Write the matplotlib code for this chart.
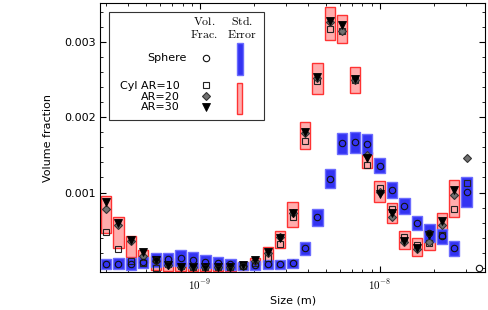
import numpy as np
import matplotlib
matplotlib.use('Agg')
import matplotlib.pyplot as plt
from matplotlib.patches import Rectangle
from matplotlib.ticker import FixedLocator, MultipleLocator, FuncFormatter, NullFormatter, FormatStrFormatter

plt.rcParams['font.size'] = 8
plt.rcParams['mathtext.fontset'] = 'cm'

# ── Data (sizes in nm, volume fractions in units of 1e-3) ────────────────────
size_nm = [0.300, 0.352, 0.413, 0.484, 0.568, 0.666, 0.781, 0.915, 1.073, 1.258,
           1.476, 1.730, 2.029, 2.379, 2.789, 3.270, 3.834, 4.496, 5.271, 6.181,
           7.244, 8.494, 9.959, 11.68, 13.69, 16.06, 18.83, 22.07, 25.88, 30.34,
           35.58]

sphere = [0.045, 0.053, 0.050, 0.070, 0.100, 0.110, 0.125, 0.100, 0.080, 0.058,
          0.045, 0.025, 0.030, 0.045, 0.045, 0.060, 0.258, 0.670, 1.180, 1.654,
          1.668, 1.645, 1.356, 1.033, 0.820, 0.598, 0.460, 0.420, 0.258, 1.010,
          0.000]
sphere_err = [0.066, 0.073, 0.077, 0.077, 0.089, 0.089, 0.104, 0.104, 0.089, 0.078,
              0.073, 0.050, 0.058, 0.060, 0.058, 0.062, 0.084, 0.113, 0.126, 0.142,
              0.137, 0.128, 0.100, 0.111, 0.104, 0.093, 0.120, 0.100, 0.100, 0.200,
              np.nan]

cyl_ar10 = [0.471, 0.245, 0.090, 0.060, 0.000, 0.053, 0.020, 0.010, 0.010, 0.008,
            0.010, 0.020, 0.060, 0.125, 0.310, 0.670, 1.680, 2.480, 3.170, 3.150,
            2.490, 1.360, 1.056, 0.777, 0.404, 0.302, 0.332, 0.435, 0.777, 1.130,
            np.nan]
cyl_ar20 = [0.781, 0.570, 0.350, 0.160, 0.095, 0.040, 0.010, 0.010, 0.008, 0.008,
            0.012, 0.025, 0.090, 0.190, 0.410, 0.730, 1.790, 2.520, 3.270, 3.150,
            2.490, 1.500, 1.010, 0.680, 0.340, 0.250, 0.340, 0.568, 0.967, 1.455,
            np.nan]
cyl_ar30 = [0.878, 0.590, 0.368, 0.210, 0.100, 0.036, 0.005, 0.005, 0.003, 0.005,
            0.013, 0.030, 0.100, 0.213, 0.400, 0.723, 1.800, 2.540, 3.285, 3.230,
            2.505, 1.455, 0.980, 0.723, 0.359, 0.266, 0.435, 0.625, 1.033, np.nan,
            np.nan]
cyl_mid = [0.705, 0.468, 0.284, 0.150, 0.065, 0.045, 0.015, 0.010, 0.010, 0.010,
           0.012, 0.025, 0.083, 0.176, 0.373, 0.707, 1.758, 2.512, 3.245, 3.176,
           2.496, 1.432, 1.015, 0.727, 0.368, 0.273, 0.368, 0.612, 0.922, np.nan,
           np.nan]
cyl_err = [0.248, 0.202, 0.138, 0.085, 0.095, 0.085, 0.055, 0.050, 0.050, 0.050,
           0.050, 0.050, 0.045, 0.096, 0.115, 0.162, 0.184, 0.206, 0.217, 0.184,
           0.169, 0.110, 0.137, 0.129, 0.124, 0.118, 0.133, 0.111, 0.244, np.nan,
           np.nan]

# ── Convert units ─────────────────────────────────────────────────────────────
x = np.array(size_nm) * 1e-9
sph = np.array(sphere) * 1e-3
sph_e = np.array(sphere_err) * 1e-3
c10 = np.array(cyl_ar10) * 1e-3
c20 = np.array(cyl_ar20) * 1e-3
c30 = np.array(cyl_ar30) * 1e-3
cm = np.array(cyl_mid) * 1e-3
ce = np.array(cyl_err) * 1e-3

# box edges in log space
half = 10 ** 0.0287
left = x / half
width = x * half - left

fig = plt.figure(figsize=(4.89, 3.10), dpi=100)
ax = fig.add_axes([0.2055, 0.1226, 0.786, 0.8677])
ax.set_xscale('log')

blue_face = (0.2, 0.2, 0.95)
blue_edge = (0.42, 0.42, 1.0)
red_face = (1.0, 0.68, 0.68)
red_edge = (1.0, 0.2, 0.2)

ok = ~np.isnan(ce)
ax.bar(left[ok], 2 * ce[ok], width=width[ok], bottom=(cm - ce)[ok], align='edge',
       color=red_face, edgecolor=red_edge, linewidth=1.0, zorder=2)
ok = ~np.isnan(sph_e)
ax.bar(left[ok], 2 * sph_e[ok], width=width[ok], bottom=(sph - sph_e)[ok], align='edge',
       color=blue_face, edgecolor=blue_edge, linewidth=1.0, zorder=3)

sq_kw = dict(marker='s', ms=4.2, mfc='none', mec='#222222', mew=0.8)
di_kw = dict(marker='D', ms=4.4, mfc='#707070', mec='#333333', mew=0.8)
tr_kw = dict(marker='v', ms=6, mfc='black', mec='black', mew=0.6)
ci_kw = dict(marker='o', ms=4.6, mfc='none', mec='#111111', mew=0.8)

ax.plot(x, c10, ls='none', zorder=5, **sq_kw)
ax.plot(x, c20, ls='none', zorder=6, **di_kw)
ax.plot(x, c30, ls='none', zorder=7, **tr_kw)
ax.plot(x, sph, ls='none', zorder=8, **ci_kw)

ax.set_xlim(2.80e-10, 3.83e-8)
ax.set_ylim(-0.000057, 0.00352)

ax.xaxis.set_major_locator(FixedLocator([1e-9, 1e-8]))
ax.xaxis.set_major_formatter(FuncFormatter(lambda v, p: r'$10^{%d}$' % round(np.log10(v))))
minors = [m * 10.0 ** e for e in (-10, -9, -8) for m in range(2, 10)]
ax.xaxis.set_minor_locator(FixedLocator(minors))
ax.xaxis.set_minor_formatter(NullFormatter())
ax.yaxis.set_major_locator(FixedLocator([0.001, 0.002, 0.003]))
ax.yaxis.set_major_formatter(FormatStrFormatter('%.3f'))
ax.yaxis.set_minor_locator(MultipleLocator(0.0002))
ax.tick_params(which='both', direction='in', top=True, right=True)
ax.tick_params(which='major', length=4)
ax.tick_params(which='minor', length=2.5)

ax.set_xlabel('Size (m)', labelpad=3)
ax.set_ylabel('Volume fraction', labelpad=8)

# ── Hand-made legend ──────────────────────────────────────────────────────────
T = ax.transAxes
ax.add_patch(Rectangle((0.023, 0.565), 0.402, 0.40, transform=T, facecolor='white',
                       edgecolor='#333333', linewidth=0.8, zorder=10))
ax.text(0.269, 0.907, r'$\mathrm{Vol.}$' + '\n' + r'$\mathrm{Frac.}$', transform=T,
        ha='center', va='center', fontsize=8.5, linespacing=0.95, zorder=11)
ax.text(0.368, 0.907, r'$\mathrm{Std.}$' + '\n' + r'$\mathrm{Error}$', transform=T,
        ha='center', va='center', fontsize=8.5, linespacing=0.95, zorder=11)
ax.text(0.224, 0.794, 'Sphere', transform=T, ha='right', va='center', zorder=11)
ax.text(0.207, 0.693, 'Cyl AR=10', transform=T, ha='right', va='center', zorder=11)
ax.text(0.207, 0.652, 'AR=20', transform=T, ha='right', va='center', zorder=11)
ax.text(0.207, 0.612, 'AR=30', transform=T, ha='right', va='center', zorder=11)
ax.plot([0.2736], [0.794], transform=T, zorder=12, **ci_kw)
ax.plot([0.2736], [0.695], transform=T, zorder=12, **sq_kw)
ax.plot([0.2736], [0.653], transform=T, zorder=12, **di_kw)
ax.plot([0.2736], [0.612], transform=T, zorder=12, **tr_kw)
ax.add_patch(Rectangle((0.354, 0.732), 0.016, 0.118, transform=T, facecolor=blue_face,
                       edgecolor=blue_edge, linewidth=1.0, zorder=12))
ax.add_patch(Rectangle((0.354, 0.587), 0.014, 0.117, transform=T, facecolor=red_face,
                       edgecolor=red_edge, linewidth=1.0, zorder=12))

fig.savefig('out.png', dpi=100)
